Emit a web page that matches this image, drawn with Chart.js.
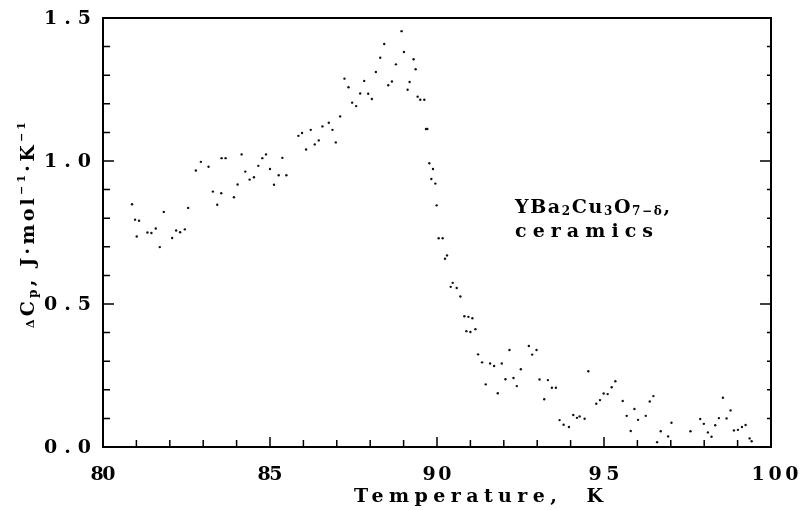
<!DOCTYPE html>
<html>
<head>
<meta charset="utf-8">
<script src="https://cdn.jsdelivr.net/npm/chart.js@4.4.1/dist/chart.umd.min.js"></script>
<style>
  body { margin: 0; background: #fff; }
  #wrap { width: 803px; height: 510px; }
</style>
</head>
<body>
<div id="wrap"><canvas id="cpChart" width="803" height="510"></canvas></div>
<script>
// temperature (K) and excess heat capacity (J/mol/K)
var temps = [80.87, 80.96, 81.01, 81.08, 81.33, 81.45, 81.58, 81.70, 81.82, 82.07,
  82.19, 82.31, 82.45, 82.55, 82.78, 82.93, 83.16, 83.29, 83.42, 83.54,
  83.55, 83.67, 83.92, 84.03, 84.15, 84.26, 84.39, 84.52, 84.65, 84.77,
  84.88, 85.00, 85.12, 85.26, 85.37, 85.49, 85.85, 85.96, 86.08, 86.22,
  86.34, 86.46, 86.57, 86.76, 86.87, 86.97, 87.10, 87.23, 87.35, 87.46,
  87.58, 87.70, 87.82, 87.94, 88.05, 88.17, 88.30, 88.42, 88.54, 88.65,
  88.77, 88.94, 89.01, 89.12, 89.18, 89.30, 89.36, 89.42, 89.50, 89.62,
  89.67, 89.71, 89.77, 89.83, 89.88, 89.95, 89.99, 90.05, 90.17, 90.24,
  90.30, 90.41, 90.47, 90.59, 90.70, 90.82, 90.88, 90.94, 91.00, 91.06,
  91.15, 91.23, 91.35, 91.46, 91.59, 91.71, 91.82, 91.94, 92.05, 92.17,
  92.29, 92.39, 92.51, 92.75, 92.85, 92.98, 93.07, 93.21, 93.32, 93.44,
  93.56, 93.67, 93.79, 93.95, 94.08, 94.19, 94.27, 94.42, 94.53, 94.77,
  94.88, 94.99, 95.11, 95.23, 95.34, 95.56, 95.68, 95.80, 95.91, 96.02,
  96.25, 96.37, 96.48, 96.59, 96.70, 96.92, 97.02, 97.20, 97.59, 97.88,
  97.99, 98.11, 98.22, 98.33, 98.44, 98.56, 98.67, 98.79, 98.89, 99.01,
  99.13, 99.24, 99.36, 99.42];
var deltaCp = [0.849, 0.795, 0.736, 0.791, 0.750, 0.748, 0.764, 0.699, 0.822, 0.731,
  0.757, 0.751, 0.761, 0.836, 0.967, 0.997, 0.980, 0.893, 0.847, 0.887,
  1.010, 1.010, 0.873, 0.918, 1.023, 0.963, 0.935, 0.943, 0.983, 1.010,
  1.023, 0.972, 0.917, 0.950, 1.011, 0.950, 1.088, 1.098, 1.040, 1.109,
  1.058, 1.072, 1.121, 1.134, 1.109, 1.065, 1.156, 1.288, 1.258, 1.204,
  1.192, 1.236, 1.280, 1.235, 1.217, 1.311, 1.361, 1.409, 1.265, 1.278,
  1.338, 1.454, 1.381, 1.249, 1.276, 1.356, 1.321, 1.225, 1.214, 1.214,
  1.112, 1.112, 0.992, 0.937, 0.972, 0.921, 0.845, 0.730, 0.730, 0.658,
  0.670, 0.560, 0.574, 0.556, 0.526, 0.457, 0.405, 0.455, 0.402, 0.450,
  0.412, 0.324, 0.296, 0.219, 0.292, 0.283, 0.188, 0.292, 0.237, 0.339,
  0.241, 0.213, 0.272, 0.353, 0.323, 0.339, 0.236, 0.167, 0.234, 0.207,
  0.207, 0.094, 0.078, 0.070, 0.112, 0.102, 0.107, 0.099, 0.265, 0.151,
  0.164, 0.187, 0.185, 0.209, 0.230, 0.161, 0.109, 0.056, 0.133, 0.095,
  0.109, 0.159, 0.178, 0.017, 0.055, 0.037, 0.085, -0.010, 0.055, 0.098,
  0.081, 0.051, 0.036, 0.076, 0.101, 0.172, 0.100, 0.128, 0.058, 0.060,
  0.070, 0.077, 0.030, 0.020];

var xTicks = [80, 85, 90, 95, 100];
var xTickLabels = ['80', '85', '90', '95', '100'];
var yTicks = [0, 0.5, 1.0, 1.5];
var yTickLabels = ['0.0', '0.5', '1.0', '1.5'];

var FONT = '"DejaVu Serif", "Liberation Serif", serif';
// how wide each printed label is in the original (it was typed letter-spaced)
var xLabelWidth = [25, 25, 29, 31, 47];
var yLabelWidth = 47;

function textW(ctx, t) {
  ctx.letterSpacing = '0px';
  return ctx.measureText(t).width;
}

// draw text stretched with letter spacing to a given width
function drawFit(ctx, text, x, y, align, width) {
  var nat = textW(ctx, text);
  var gap = text.length > 1 ? (width - nat) / (text.length - 1) : 0;
  var x0 = x;
  if (align === 'center') x0 = x - width / 2;
  if (align === 'right') x0 = x - width;
  ctx.textAlign = 'left';
  ctx.letterSpacing = gap + 'px';
  ctx.fillText(text, x0, y);
  ctx.letterSpacing = '0px';
}

// runs of text with own size and baseline shift (sub/superscripts), spread to a width
function drawRuns(ctx, runs, x, y, width) {
  var nat = 0, n = 0;
  runs.forEach(function (r) {
    ctx.font = 'bold ' + r.size + 'px ' + FONT;
    nat += textW(ctx, r.t);
    n += r.t.length;
  });
  var gap = (width - nat) / (n - 1);
  var cx = x;
  runs.forEach(function (r) {
    ctx.font = 'bold ' + r.size + 'px ' + FONT;
    ctx.textAlign = 'left';
    ctx.letterSpacing = gap + 'px';
    ctx.fillText(r.t, cx, y + (r.dy || 0));
    ctx.letterSpacing = '0px';
    cx += textW(ctx, r.t) + gap * r.t.length;
  });
}

var axesPlugin = {
  id: 'oldAxes',
  afterDraw: function (chart) {
    var ctx = chart.ctx;
    var a = chart.chartArea;
    var xs = chart.scales.x, ys = chart.scales.y;
    ctx.save();
    ctx.strokeStyle = '#000';
    ctx.fillStyle = '#000';
    ctx.lineWidth = 2;
    ctx.strokeRect(a.left, a.top, a.right - a.left, a.bottom - a.top);

    // inward ticks
    ctx.lineWidth = 1.5;
    ctx.beginPath();
    for (var k = 81; k < 100; k++) {
      var px = xs.getPixelForValue(k);
      var len = (k % 5 === 0) ? 10 : 7;
      ctx.moveTo(px, a.bottom);
      ctx.lineTo(px, a.bottom - len);
    }
    for (var j = 1; j < 15; j++) {
      var py = ys.getPixelForValue(j / 10);
      ctx.moveTo(a.left, py);
      ctx.lineTo(a.left + ((j % 5 === 0) ? 11 : 7), py);
      ctx.moveTo(a.right, py);
      ctx.lineTo(a.right - ((j % 5 === 0) ? 11 : 4), py);
    }
    ctx.stroke();

    // tick labels
    ctx.font = 'bold 19px ' + FONT;
    ctx.textBaseline = 'middle';
    xTicks.forEach(function (v, i) {
      drawFit(ctx, xTickLabels[i], xs.getPixelForValue(v) + (v === 100 ? 4 : 0), a.bottom + 28, 'center', xLabelWidth[i]);
    });
    yTicks.forEach(function (v, i) {
      drawFit(ctx, yTickLabels[i], a.left - 12, ys.getPixelForValue(v) + 1, 'right', yLabelWidth);
    });

    // x title
    drawFit(ctx, 'Temperature,  K', 354, 497, 'left', 249);

    // y title, rotated
    ctx.save();
    ctx.translate(29, 328);
    ctx.rotate(-Math.PI / 2);
    ctx.textBaseline = 'middle';
    drawRuns(ctx, [
      {t: 'Δ', size: 11, dy: 2},
      {t: 'C', size: 19},
      {t: 'p', size: 12, dy: 5},
      {t: ', J·mol', size: 19},
      {t: '−1', size: 11, dy: -7},
      {t: '·K', size: 19},
      {t: '−1', size: 11, dy: -7}
    ], 0, 0, 206);
    ctx.restore();

    // sample annotation
    ctx.textBaseline = 'middle';
    drawRuns(ctx, [
      {t: 'YBa', size: 19},
      {t: '2', size: 12, dy: 4},
      {t: 'Cu', size: 19},
      {t: '3', size: 12, dy: 4},
      {t: 'O', size: 19},
      {t: '7−δ', size: 12, dy: 4},
      {t: ',', size: 19}
    ], 515, 208, 155);
    ctx.font = 'bold 19px ' + FONT;
    drawFit(ctx, 'ceramics', 515, 232, 'left', 138);
    ctx.restore();
  }
};

var points = temps.map(function (t, i) { return {x: t, y: deltaCp[i]}; });

new Chart(document.getElementById('cpChart'), {
  type: 'scatter',
  data: {
    datasets: [{
      data: points,
      pointRadius: 1.2,
      pointHoverRadius: 1.2,
      backgroundColor: '#111',
      borderWidth: 0,
      clip: false
    }]
  },
  options: {
    responsive: false,
    animation: false,
    layout: { padding: { left: 103, right: 32, top: 18, bottom: 63 } },
    plugins: { legend: { display: false }, tooltip: { enabled: false } },
    scales: {
      x: { type: 'linear', min: 80, max: 100, display: false },
      y: { type: 'linear', min: 0, max: 1.5, display: false }
    }
  },
  plugins: [axesPlugin]
});
</script>
</body>
</html>
